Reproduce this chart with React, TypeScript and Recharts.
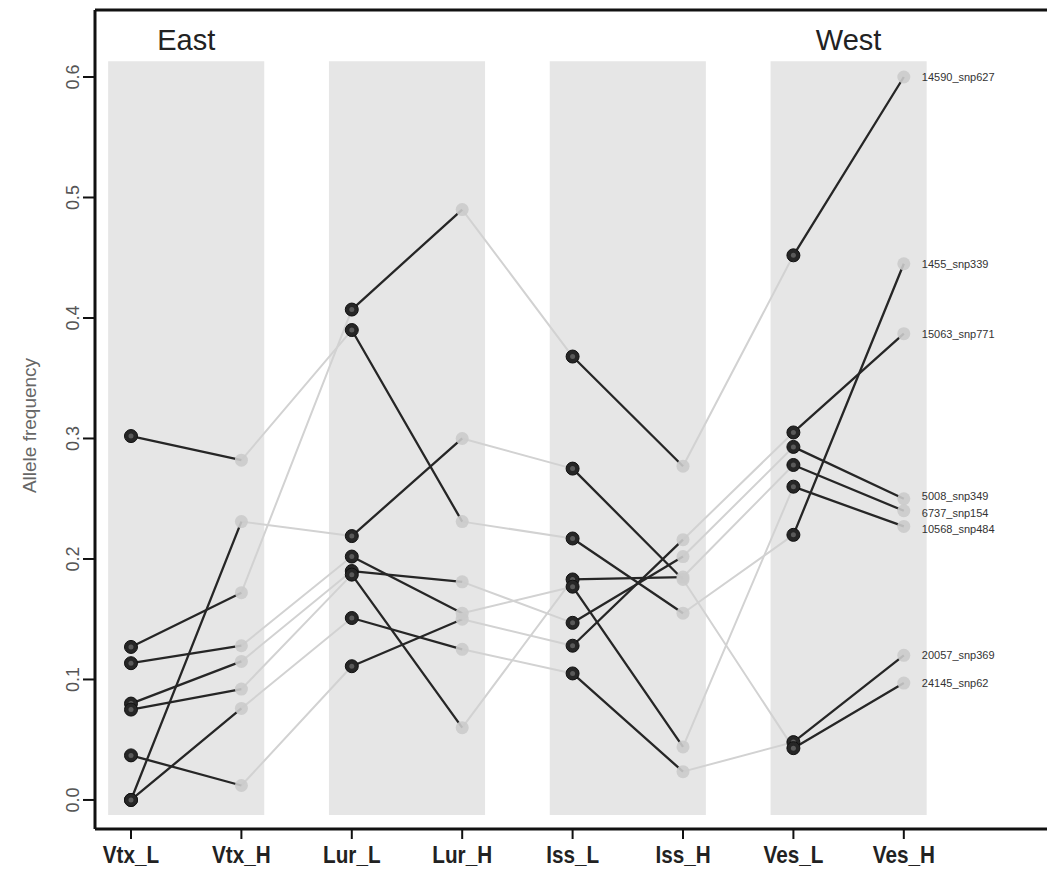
import { ComposedChart, Line, Scatter, XAxis, YAxis, ReferenceArea, ReferenceLine } from "recharts";

// populations along the x axis, in sampling order
const populations = ["Vtx_L", "Vtx_H", "Lur_L", "Lur_H", "Iss_L", "Iss_H", "Ves_L", "Ves_H"];

// allele frequency per SNP, one value per population
const snpNames = [
  "14590_snp627",
  "1455_snp339",
  "15063_snp771",
  "5008_snp349",
  "6737_snp154",
  "10568_snp484",
  "20057_snp369",
  "24145_snp62",
];
const snp14590 = [0.127, 0.172, 0.407, 0.49, 0.368, 0.277, 0.452, 0.6];
const snp1455 = [0.302, 0.282, 0.39, 0.231, 0.217, 0.155, 0.22, 0.445];
const snp15063 = [0.037, 0.012, 0.111, 0.15, 0.128, 0.216, 0.305, 0.387];
const snp5008 = [0.08, 0.115, 0.19, 0.181, 0.147, 0.202, 0.293, 0.25];
const snp6737 = [0.075, 0.092, 0.187, 0.06, 0.183, 0.185, 0.278, 0.24];
const snp10568 = [0.1135, 0.128, 0.202, 0.155, 0.177, 0.044, 0.26, 0.227];
const snp20057 = [0.0, 0.076, 0.151, 0.125, 0.105, 0.0235, 0.048, 0.12];
const snp24145 = [0.0, 0.231, 0.219, 0.3, 0.275, 0.183, 0.043, 0.097];
const snpValues = [snp14590, snp1455, snp15063, snp5008, snp6737, snp10568, snp20057, snp24145];

// label placement of the end-of-line names (slightly spread where they crowd)
const labelValues = [0.6, 0.445, 0.387, 0.252, 0.238, 0.225, 0.12, 0.097];

const regions = [
  { name: "East", x: 1.5 },
  { name: "West", x: 7.5 },
];
const yTicks = [0, 0.1, 0.2, 0.3, 0.4, 0.5, 0.6];

const X_DOMAIN: [number, number] = [0.674, 9.297];
const Y_DOMAIN: [number, number] = [-0.0241, 0.6556];
const font = "'Liberation Sans', Arial, sans-serif";

// within-population segments (L -> H), broken by a null between groups
const darkLines = snpValues.map((vals) => {
  const pts: { x: number; y: number | null }[] = [];
  for (let g = 0; g < 4; g++) {
    pts.push({ x: 2 * g + 1, y: vals[2 * g] });
    pts.push({ x: 2 * g + 2, y: vals[2 * g + 1] });
    pts.push({ x: 2 * g + 2.5, y: null });
  }
  return pts;
});

// between-population segments (H -> next L)
const lightLines = snpValues.map((vals) => {
  const pts: { x: number; y: number | null }[] = [];
  for (let g = 0; g < 3; g++) {
    pts.push({ x: 2 * g + 2, y: vals[2 * g + 1] });
    pts.push({ x: 2 * g + 3, y: vals[2 * g + 2] });
    pts.push({ x: 2 * g + 3.5, y: null });
  }
  return pts;
});

const lowPoints = snpValues.flatMap((vals) => [0, 2, 4, 6].map((i) => ({ x: i + 1, y: vals[i] })));
const highPoints = snpValues.flatMap((vals) => [1, 3, 5, 7].map((i) => ({ x: i + 1, y: vals[i] })));
const endLabels = snpNames.map((name, i) => ({ x: 8, y: labelValues[i], name }));
const regionPoints = regions.map((r) => ({ x: r.x, y: 0.631, name: r.name }));

function DarkDot({ cx, cy }: any) {
  return (
    <g>
      <circle cx={cx} cy={cy} r={6.5} fill="#262626" stroke="#111" strokeWidth={1} />
      <circle cx={cx} cy={cy} r={2.5} fill="#5a5a5a" />
    </g>
  );
}

function LightDot({ cx, cy }: any) {
  return <circle cx={cx} cy={cy} r={6.5} fill="#cbcbcb" fillOpacity={0.9} />;
}

function NameLabel({ cx, cy, payload }: any) {
  return (
    <text x={cx + 18} y={cy + 4} fontSize={11} fill="#333" fontFamily={font}>
      {payload.name}
    </text>
  );
}

function RegionLabel({ cx, cy, payload }: any) {
  return (
    <text x={cx} y={cy + 10} fontSize={29} fill="#222" textAnchor="middle" fontFamily={font}>
      {payload.name}
    </text>
  );
}

function YTick({ x, y, payload }: any) {
  const tx = x - 2;
  return (
    <text x={tx} y={y} transform={`rotate(-90, ${tx}, ${y})`} textAnchor="middle" fontSize={18} fill="#555" fontFamily={font}>
      {payload.value.toFixed(1)}
    </text>
  );
}

function XTick({ x, y, payload }: any) {
  // narrow bold lettering, as in the original figure
  return (
    <g transform={`translate(${x}, ${y + 22}) scale(0.9, 1)`}>
      <text x={0} y={0} textAnchor="middle" fontSize={23} fontWeight="bold" fill="#222" fontFamily={font}>
        {populations[payload.value - 1]}
      </text>
    </g>
  );
}

function YTitle({ viewBox }: any) {
  const x = 36;
  const y = viewBox.y + viewBox.height / 2 + 6;
  return (
    <text x={x} y={y} transform={`rotate(-90, ${x}, ${y})`} textAnchor="middle" fontSize={19} fill="#666" fontFamily={font}>
      Allele frequency
    </text>
  );
}

export default function App() {
  return (
    <div style={{ position: "absolute", left: 0, top: 0, width: 1047, height: 869, background: "#fff" }}>
      <ComposedChart width={1047} height={869} margin={{ top: 10, right: 0, bottom: 0, left: 0 }}>
        <XAxis
          type="number"
          dataKey="x"
          domain={X_DOMAIN}
          ticks={[1, 2, 3, 4, 5, 6, 7, 8]}
          allowDataOverflow
          axisLine={{ stroke: "#111", strokeWidth: 3 }}
          tickLine={{ stroke: "#111", strokeWidth: 2 }}
          tickSize={10}
          tick={<XTick />}
          height={40}
        />
        <YAxis
          type="number"
          dataKey="y"
          domain={Y_DOMAIN}
          ticks={yTicks}
          allowDataOverflow
          width={95}
          axisLine={{ stroke: "#111", strokeWidth: 3 }}
          tickLine={{ stroke: "#111", strokeWidth: 2 }}
          tickSize={12}
          tick={<YTick />}
          label={<YTitle />}
        />
        <ReferenceLine y={Y_DOMAIN[1]} stroke="#111" strokeWidth={3} />
        {[1, 3, 5, 7].map((x) => (
          <ReferenceArea key={x} x1={x - 0.207} x2={x + 1.207} y1={-0.0125} y2={0.613} fill="#e6e6e6" fillOpacity={1} stroke="none" />
        ))}
        {lightLines.map((d, i) => (
          <Line key={`l${i}`} data={d} dataKey="y" stroke="#d2d2d2" strokeWidth={2} dot={false} isAnimationActive={false} />
        ))}
        <Scatter data={highPoints} shape={<LightDot />} isAnimationActive={false} />
        {darkLines.map((d, i) => (
          <Line key={`d${i}`} data={d} dataKey="y" stroke="#262626" strokeWidth={2.3} dot={false} isAnimationActive={false} />
        ))}
        <Scatter data={lowPoints} shape={<DarkDot />} isAnimationActive={false} />
        <Scatter data={endLabels} shape={<NameLabel />} isAnimationActive={false} />
        <Scatter data={regionPoints} shape={<RegionLabel />} isAnimationActive={false} />
      </ComposedChart>
    </div>
  );
}
